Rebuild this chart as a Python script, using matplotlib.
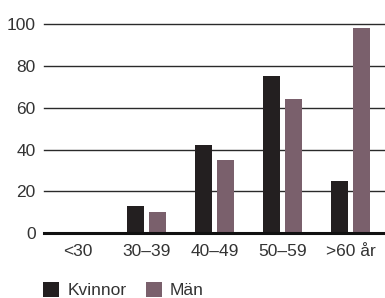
import matplotlib
matplotlib.use("Agg")
import matplotlib.pyplot as plt
import numpy as np

categories = ["<30", "30–39", "40–49", "50–59", ">60 år"]
kvinnor = [0, 13, 42, 75, 25]
man = [0, 10, 35, 64, 98]
yticks = [0, 20, 40, 60, 80, 100]

plt.rcParams['font.family'] = ['Liberation Sans', 'DejaVu Sans']
txt = '#333333'

fig = plt.figure(figsize=(3.85, 2.98), dpi=100)
ax = fig.add_axes([44/385, 1-233/298, 1-44/385, (233-24.3)/298])

x = np.arange(len(categories))
w = 0.25
off = 0.162
ax.bar(x - off, kvinnor, width=w, color='#231f20', label='Kvinnor', zorder=3)
ax.bar(x + off, man, width=w, color='#7a606c', label='Män', zorder=3)

ax.set_xlim(-0.5, 4.5)
ax.set_ylim(0, 100)
ax.set_yticks(yticks)
ax.set_xticks(x)
ax.set_xticklabels(categories)
for y in yticks[1:]:
    ax.axhline(y, color='#2a2a2a', lw=1.0, zorder=1, clip_on=False)
ax.axhline(0, color='#111111', lw=2.2, zorder=4, clip_on=False)
for s in ax.spines.values():
    s.set_visible(False)
ax.tick_params(axis='both', length=0, labelsize=12.5, colors=txt)
ax.tick_params(axis='y', pad=6)
ax.tick_params(axis='x', pad=8)

leg = fig.legend(loc='lower left', bbox_to_anchor=(43/385, 0.0), ncol=2,
                 frameon=False, fontsize=12.5, handlelength=0.95, handleheight=0.95,
                 handletextpad=0.45, columnspacing=1.1, borderpad=0.0,
                 borderaxespad=0.0)
for t in leg.get_texts():
    t.set_color(txt)

fig.savefig('out.png', dpi=100)
